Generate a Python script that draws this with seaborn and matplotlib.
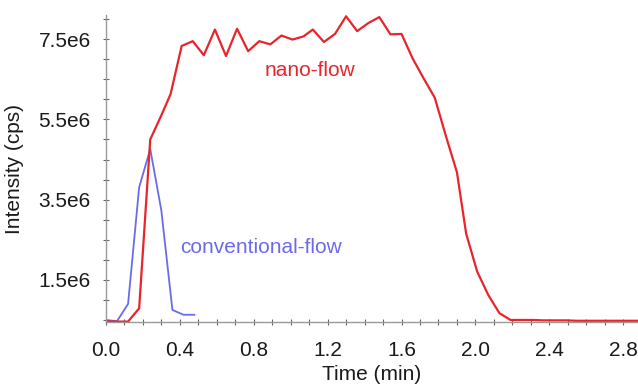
# Intensity vs time: nano-flow vs conventional-flow
import numpy as np
import pandas as pd
import seaborn as sb
import matplotlib.pyplot as plt
from matplotlib.ticker import MultipleLocator

# datos
tiempo_nano = [0.00, 0.06, 0.12, 0.18, 0.24, 0.30, 0.35, 0.41, 0.47, 0.53,
               0.59, 0.65, 0.71, 0.77, 0.83, 0.89, 0.95, 1.01, 1.07, 1.12,
               1.18, 1.24, 1.30, 1.36, 1.42, 1.48, 1.54, 1.60, 1.66, 1.72,
               1.78, 1.84, 1.90, 1.95, 2.01, 2.07, 2.13, 2.19, 2.25, 2.31,
               2.37, 2.43, 2.49, 2.55, 2.61, 2.67, 2.73, 2.79, 2.85, 2.90]
int_nano = [0.47, 0.46, 0.46, 0.79, 5.00, 5.60, 6.13, 7.33, 7.45, 7.10,
            7.74, 7.08, 7.76, 7.20, 7.45, 7.37, 7.59, 7.49, 7.57, 7.74,
            7.43, 7.63, 8.07, 7.70, 7.90, 8.05, 7.62, 7.63, 7.02, 6.52,
            6.04, 5.09, 4.18, 2.65, 1.70, 1.12, 0.67, 0.50, 0.50, 0.50,
            0.49, 0.49, 0.49, 0.48, 0.48, 0.48, 0.48, 0.48, 0.48, 0.48]

tiempo_conv = [0.00, 0.06, 0.12, 0.18, 0.24, 0.30, 0.36, 0.42, 0.48]
int_conv = [0.50, 0.47, 0.90, 3.81, 4.76, 3.23, 0.75, 0.63, 0.63]

yticks = [1.5e6, 3.5e6, 5.5e6, 7.5e6]
ytick_labels = ["1.5e6", "3.5e6", "5.5e6", "7.5e6"]
xticks = [0.0, 0.4, 0.8, 1.2, 1.6, 2.0, 2.4, 2.8]

nano = pd.DataFrame({"t": tiempo_nano, "i": np.array(int_nano) * 1e6})
conv = pd.DataFrame({"t": tiempo_conv, "i": np.array(int_conv) * 1e6})

sb.set_style("white")
plt.rcParams["font.family"] = ["Liberation Sans", "DejaVu Sans"]

fig = plt.figure(figsize=(6.38, 3.87), dpi=100)
ax = fig.add_axes([0.166, 0.168, 0.834, 0.793])

sb.lineplot(data=conv, x="t", y="i", color="#6b6bea", linewidth=1.3, ax=ax)
sb.lineplot(data=nano, x="t", y="i", color="#e8242c", linewidth=1.6, ax=ax)

ax.set_xlim(0, 2.88)
ax.set_ylim(0.45e6, 8.1e6)

ax.set_xticks(xticks)
ax.set_xticklabels([f"{v:.1f}" for v in xticks])
ax.set_yticks(yticks)
ax.set_yticklabels(ytick_labels)
ax.xaxis.set_minor_locator(MultipleLocator(0.1))
ax.yaxis.set_minor_locator(MultipleLocator(0.5e6))

for s in ["top", "right"]:
    ax.spines[s].set_visible(False)
for s in ["left", "bottom"]:
    ax.spines[s].set_color("#9a9a9a")
    ax.spines[s].set_linewidth(1.0)

ax.tick_params(axis="both", which="both", direction="inout", length=4,
               width=0.8, color="#666666", labelsize=15, pad=9,
               bottom=True, left=True, labelcolor="#1a1a1a")
ax.tick_params(axis="x", which="major", pad=12)

ax.set_xlabel("Time (min)", fontsize=15, labelpad=3, color="#1a1a1a")
ax.set_ylabel("Intensity (cps)", fontsize=15, labelpad=10, color="#1a1a1a")

ax.text(0.86, 6.71e6, "nano-flow", color="#e8242c", fontsize=15,
        ha="left", va="center")
ax.text(0.40, 2.31e6, "conventional-flow", color="#6b6bea", fontsize=15,
        ha="left", va="center")

plt.savefig("out.png", dpi=100)
plt.close()
